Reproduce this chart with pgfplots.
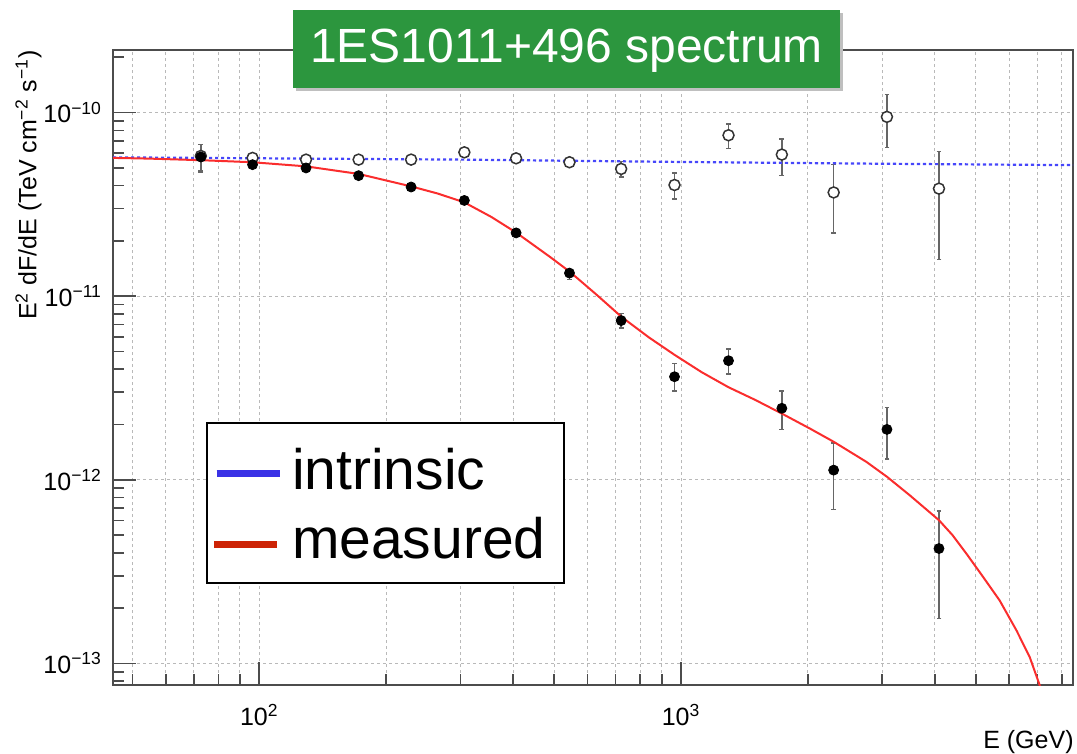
\documentclass[border=0pt]{standalone}
\usepackage{fontspec}
\setmainfont{Liberation Sans}
\usepackage{pgfplots}
\pgfplotsset{compat=1.18}
\definecolor{titlegreen}{RGB}{44,150,62}
\definecolor{curvered}{RGB}{250,45,45}
\definecolor{dotblue}{RGB}{70,70,250}
\definecolor{legblue}{RGB}{58,50,230}
\definecolor{legred}{RGB}{205,35,5}
\begin{document}
\begin{tikzpicture}
\useasboundingbox (0pt,0pt) rectangle (538.5pt,377pt);
\begin{axis}[
  at={(56.5pt,34.5pt)}, anchor=south west,
  width=480pt, height=317.5pt, scale only axis,
  xmode=log, ymode=log,
  xmin=45, xmax=8500, ymin=7.62e-14, ymax=2.19e-10,
  axis line style={black!70, line width=1pt},
  tick align=inside, xtick pos=bottom, ytick pos=left,
  major tick length=11.5pt, minor tick length=5.5pt,
  every tick/.style={black!70, line width=0.8pt},
  xtick={100,1000}, xticklabels={10\textsuperscript{2},10\textsuperscript{3}},
  minor xtick={50,60,70,80,90,200,300,400,500,600,700,800,900,2000,3000,4000,5000,6000,7000,8000},
  ytick={1e-13,1e-12,1e-11,1e-10},
  minor ytick={8e-14,9e-14,2e-13,3e-13,4e-13,5e-13,6e-13,7e-13,8e-13,9e-13,2e-12,3e-12,4e-12,5e-12,6e-12,7e-12,8e-12,9e-12,2e-11,3e-11,4e-11,5e-11,6e-11,7e-11,8e-11,9e-11,2e-10},
  yticklabels={10\textsuperscript{−13},10\textsuperscript{−12},10\textsuperscript{−11},10\textsuperscript{−10}},
  ticklabel style={font=\fontsize{12.5}{15}\selectfont},
  xticklabel style={yshift=-6pt},
  yticklabel style={xshift=-2pt},
  xminorgrids=true, xmajorgrids=true, ymajorgrids=true, yminorgrids=false,
  grid style={gray!55, dash pattern=on 1.5pt off 1.5pt, line width=0.5pt},
  minor grid style={gray!55, dash pattern=on 1.5pt off 1.5pt, line width=0.5pt},
  clip=true,
]
% open points (intrinsic)
\addplot[only marks, mark=*, mark size=2.75pt, mark options={draw=black!80, fill=white, line width=0.75pt},
  error bars/.cd, y dir=both, y explicit,
  error bar style={black!60, line width=0.7pt},
  error mark options={black!60, line width=0.7pt, mark size=1.2pt, rotate=90}]
  table[x=E, y=F, y error plus=ep, y error minus=em] {
E F ep em
72.7 5.80e-11 0.90e-11 1.00e-11
96.4 5.66e-11 0.10e-11 0.10e-11
129.1 5.54e-11 0.10e-11 0.10e-11
172.0 5.54e-11 0.10e-11 0.10e-11
229.1 5.54e-11 0.10e-11 0.10e-11
306.4 6.07e-11 0.15e-11 0.15e-11
406.4 5.63e-11 0.15e-11 0.15e-11
543.9 5.36e-11 0.25e-11 0.25e-11
721.3 4.93e-11 0.49e-11 0.47e-11
965.1 4.03e-11 0.66e-11 0.65e-11
1296 7.52e-11 1.16e-11 1.16e-11
1734 5.90e-11 1.29e-11 1.35e-11
2301 3.67e-11 1.53e-11 1.46e-11
3078 9.47e-11 3.07e-11 3.01e-11
4089 3.85e-11 2.30e-11 2.27e-11
};
% filled points (measured)
\addplot[only marks, mark=*, mark size=2.5pt, mark options={draw=black, fill=black},
  error bars/.cd, y dir=both, y explicit,
  error bar style={black!60, line width=0.7pt},
  error mark options={black!60, line width=0.7pt, mark size=1.2pt, rotate=90}]
  table[x=E, y=F, y error plus=ep, y error minus=em] {
E F ep em
72.7 5.73e-11 0.96e-11 1.01e-11
96.4 5.20e-11 0.15e-11 0.15e-11
129.1 4.99e-11 0.12e-11 0.12e-11
172.0 4.53e-11 0.10e-11 0.10e-11
229.1 3.93e-11 0.10e-11 0.10e-11
306.4 3.32e-11 0.10e-11 0.10e-11
406.4 2.21e-11 0.07e-11 0.07e-11
543.9 1.335e-11 0.06e-11 0.10e-11
721.3 7.36e-12 0.71e-12 0.67e-12
965.1 3.64e-12 0.67e-12 0.59e-12
1296 4.45e-12 0.69e-12 0.68e-12
1734 2.45e-12 0.60e-12 0.57e-12
2301 1.128e-12 0.46e-12 0.44e-12
3078 1.88e-12 0.60e-12 0.58e-12
4089 4.22e-13 2.55e-13 2.47e-13
};
% intrinsic curve
\addplot[dotblue, line width=1.1pt, dash pattern=on 1.6pt off 1.4pt, no marks] coordinates {
(45,5.70e-11) (300,5.54e-11) (1000,5.38e-11) (3000,5.26e-11) (8500,5.17e-11)
};
% measured curve
\addplot[curvered, line width=1pt, no marks] coordinates {
(45,5.66e-11) (54.8,5.61e-11) (72.7,5.50e-11) (96.4,5.36e-11) (129.1,5.09e-11)
(172.0,4.63e-11) (229.1,3.96e-11) (265,3.62e-11) (306.4,3.24e-11) (355,2.70e-11) (406.4,2.22e-11) (487.5,1.644e-11)
(543.9,1.362e-11) (630,1.02e-11) (721.3,7.74e-12) (840,5.95e-12) (965.1,4.79e-12) (1120,3.85e-12) (1296,3.19e-12) (1500,2.72e-12) (1729,2.30e-12)
(2017,1.905e-12) (2301,1.61e-12) (2750,1.252e-12) (3078,1.038e-12) (3484,8.24e-13)
(4089,6.02e-13) (4400,5.0e-13) (4749,3.96e-13) (5200,2.96e-13) (5695,2.20e-13) (6242,1.512e-13) (6712,1.081e-13)
(7087,7.6e-14) (7200,6.6e-14)
};
\end{axis}
% axis titles
\node[anchor=base east, font=\fontsize{12.5}{15}\selectfont, inner sep=0pt] at (537pt,2.5pt) {E (GeV)};
\node[rotate=90, anchor=east, font=\fontsize{12.5}{15}\selectfont, inner sep=0pt] at (14.25pt,352pt)
  {E\textsuperscript{2} dF/dE (TeV cm\textsuperscript{−2} s\textsuperscript{−1})};
% title box
\fill[black!25] (148pt,331.5pt) rectangle (421.5pt,370.5pt);
\fill[titlegreen] (146.5pt,333pt) rectangle (420pt,372pt);
\node[text=white, font=\fontsize{24}{28}\selectfont, inner sep=0pt] at (283.25pt,351.5pt) {1ES1011+496 spectrum};
% legend box
\draw[black, fill=white, line width=1pt] (103.35pt,85.35pt) rectangle (282pt,165.65pt);
\draw[legblue, line width=3.5pt] (108.35pt,140pt) -- (140pt,140pt);
\draw[legred, line width=3.5pt] (107pt,104.5pt) -- (138.5pt,104.5pt);
\node[anchor=base west, font=\fontsize{28.5}{32}\selectfont, inner sep=0pt] at (145.85pt,132pt) {intrinsic};
\node[anchor=base west, font=\fontsize{28.5}{32}\selectfont, inner sep=0pt] at (145.85pt,97.85pt) {measured};
\end{tikzpicture}
\end{document}
